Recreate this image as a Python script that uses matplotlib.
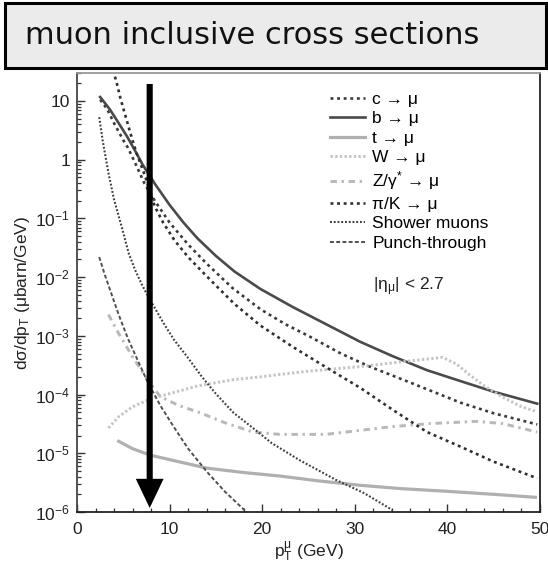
import numpy as np
import matplotlib
matplotlib.use('Agg')
import matplotlib.pyplot as plt
from matplotlib.patches import FancyArrowPatch, Rectangle
from matplotlib.ticker import FuncFormatter, LogLocator, MultipleLocator, NullFormatter

plt.rcParams['font.family'] = ['Liberation Sans', 'DejaVu Sans']
plt.rcParams['mathtext.default'] = 'regular'

# cross sections dsigma/dpT in microbarn/GeV, pT in GeV
c_pt = [2.5, 3.0, 3.35, 4.0, 4.5, 5.0, 5.5, 6.4, 7.3, 8.4, 10, 12, 14, 16.8, 19.8, 22.5, 25.2, 28.5, 31.6, 36, 41.4, 45, 49.7]
c_xs = [10.5, 8.3, 6.8, 4.2, 3.0, 2.15, 1.6, 0.8, 0.39, 0.2, 0.085, 0.036, 0.017, 6.5e-3, 2.85e-3, 1.58e-3, 9.6e-4, 5.0e-4, 3.0e-4, 1.6e-4, 7.3e-5, 4.8e-5, 3.1e-5]

b_pt = [2.5, 3.0, 3.6, 4.5, 5.4, 6.3, 7.1, 7.7, 8.5, 10, 11.5, 13, 15, 17, 19.8, 23.3, 27, 30.6, 34.1, 37.8, 41.4, 44.9, 49.7]
b_xs = [11.7, 9.3, 7.0, 4.2, 2.5, 1.4, 0.82, 0.58, 0.37, 0.17, 0.085, 0.046, 0.023, 0.0125, 6.3e-3, 3.1e-3, 1.55e-3, 7.9e-4, 4.5e-4, 2.6e-4, 1.7e-4, 1.13e-4, 7.0e-5]

t_pt = [4.5, 6, 7.9, 10, 14, 18, 21.9, 26, 30.6, 35, 40, 45, 49.5]
t_xs = [1.6e-5, 1.2e-5, 9.3e-6, 7.8e-6, 5.6e-6, 4.7e-6, 4.1e-6, 3.4e-6, 2.85e-6, 2.5e-6, 2.25e-6, 2.0e-6, 1.78e-6]

w_pt = [3.4, 4.5, 6.0, 8, 10.4, 13, 16.9, 19.8, 21.9, 25, 30.6, 35, 39.5, 41, 42.5, 44, 46, 48, 49.7]
w_xs = [2.7e-5, 4.2e-5, 6.2e-5, 8.5e-5, 1.08e-4, 1.4e-4, 1.8e-4, 2.0e-4, 2.2e-4, 2.5e-4, 3.0e-4, 3.6e-4, 4.3e-4, 3.3e-4, 2.1e-4, 1.4e-4, 9e-5, 6.2e-5, 5.1e-5]

z_pt = [3.4, 4.5, 6.0, 7.5, 9, 11, 13.3, 16, 19, 21.9, 26.9, 30, 34.1, 38, 43.2, 46, 49.7]
z_xs = [2.3e-3, 1.1e-3, 4.4e-4, 1.9e-4, 9.2e-5, 6.5e-5, 4.9e-5, 3.3e-5, 2.3e-5, 2.1e-5, 2.1e-5, 2.4e-5, 2.85e-5, 3.2e-5, 3.5e-5, 3.2e-5, 2.3e-5]

pik_pt = [4.1, 4.3, 4.7, 5.2, 5.6, 6.05, 6.5, 7.0, 7.4, 8.4, 9.3, 10.5, 12, 13.5, 15, 17, 19.8, 23.3, 27, 30.6, 34.1, 37.8, 41.4, 44.9, 49.7]
pik_xs = [26, 20, 11, 5.8, 3.5, 2.0, 1.2, 0.75, 0.5, 0.16, 0.085, 0.043, 0.022, 0.0125, 7.2e-3, 3.5e-3, 1.5e-3, 6.5e-4, 2.85e-4, 1.3e-4, 5.5e-5, 2.3e-5, 1.3e-5, 7.3e-6, 3.75e-6]

shower_pt = [2.4, 2.8, 3.4, 4.0, 4.9, 5.6, 6.3, 7.0, 7.5, 8.1, 9.5, 10.5, 11.9, 13.5, 15, 16.9, 19, 21, 24, 28, 31, 34.1]
shower_xs = [5.3, 2.0, 0.59, 0.21, 0.065, 0.025, 0.013, 7.5e-3, 5.3e-3, 3.6e-3, 1.5e-3, 8.5e-4, 4.4e-4, 2.0e-4, 1.03e-4, 4.9e-5, 2.7e-5, 1.5e-5, 7.7e-6, 3.5e-6, 2.1e-6, 1.07e-6]

punch_pt = [2.4, 3.0, 3.9, 4.5, 5.5, 6.5, 7.5, 9, 10.4, 12, 14, 16, 18.1]
punch_xs = [0.022, 0.011, 4.3e-3, 2.3e-3, 9e-4, 4e-4, 1.8e-4, 6.5e-5, 2.9e-5, 1.2e-5, 4.9e-6, 2.2e-6, 1.07e-6]

fig = plt.figure(figsize=(5.48, 5.69), dpi=100)

# header box
fig.patches.append(Rectangle((5/548, 1 - 68/569), 541/548, 65/569, transform=fig.transFigure,
                             facecolor='#ebebeb', edgecolor='black', lw=2.2))
fig.text(25/548, 1 - 36/569, 'muon inclusive cross sections', family='DejaVu Sans',
         fontsize=22, va='center', ha='left', color='#111111')

ax = fig.add_axes([77/548, 1 - 512/569, (540 - 77)/548, (512 - 73)/569])

ax.plot(c_pt, c_xs, color='#3a3a3a', ls=(0, (1.1, 1.4)), lw=1.9, label='c → μ')
ax.plot(b_pt, b_xs, color='#4a4a4a', ls='-', lw=1.9, label='b → μ')
ax.plot(t_pt, t_xs, color='#b0b0b0', ls='-', lw=2.3, label='t → μ')
ax.plot(w_pt, w_xs, color='#c4c4c4', ls=(0, (0.8, 0.8)), lw=2.1, label='W → μ')
ax.plot(z_pt, z_xs, color='#b8b8b8', ls=(0, (2.2, 1.6, 0.8, 1.6)), lw=2.1, label=r'Z/$\gamma^{*}$ → μ')
ax.plot(pik_pt, pik_xs, color='#303030', ls=(0, (1.1, 1.4)), lw=1.9, label='π/K → μ')
ax.plot(shower_pt, shower_xs, color='#404040', ls=(0, (0.9, 0.9)), lw=1.5, label='Shower muons')
ax.plot(punch_pt, punch_xs, color='#505050', ls=(0, (2, 1.2)), lw=1.4, label='Punch-through')

ax.set_yscale('log')
ax.set_xlim(0, 50)
ax.set_ylim(1e-6, 30)

ax.xaxis.set_major_locator(MultipleLocator(10))
ax.xaxis.set_minor_locator(MultipleLocator(2))
ax.yaxis.set_major_locator(LogLocator(base=10, numticks=20))
ax.yaxis.set_minor_locator(LogLocator(base=10, subs=np.arange(2, 10), numticks=20))
ax.yaxis.set_minor_formatter(NullFormatter())

def ylab(v, pos):
    e = int(round(np.log10(v)))
    if e == 1:
        return '10'
    if e == 0:
        return '1'
    return r'$10^{%d}$' % e

ax.yaxis.set_major_formatter(FuncFormatter(ylab))

ax.tick_params(which='both', direction='in', top=False, right=False, colors='#333333',
               labelcolor='#222222', labelsize=12.5)
ax.tick_params(which='major', length=5.5, width=1.0)
ax.tick_params(which='minor', length=3.0, width=0.9)
ax.tick_params(axis='y', pad=5)
ax.tick_params(axis='x', pad=7)

for side, col in [('left', '#444444'), ('bottom', '#222222'), ('right', '#222222'), ('top', '#999999')]:
    ax.spines[side].set_color(col)
    ax.spines[side].set_linewidth(1.3)

ax.set_xlabel(r'p$_{T}^{\mu}$ (GeV)', fontsize=12.5, color='#222222', labelpad=2)
ax.set_ylabel(r'd$\sigma$/dp$_{T}$ ($\mu$barn/GeV)', fontsize=12.5, color='#222222', labelpad=2)

ax.legend(loc='upper left', bbox_to_anchor=(0.546, 0.958), frameon=False, fontsize=12.5,
          handlelength=2.0, handletextpad=0.45, labelspacing=0.25, borderpad=0, borderaxespad=0)

ax.text(0.639, 0.5125, r'|$\eta_{\mu}$| < 2.7', transform=ax.transAxes, fontsize=12.5,
        va='center', ha='left', color='#222222')

# marker arrow
arrow = FancyArrowPatch((7.85, 19.5), (7.85, 1.17e-6),
                        arrowstyle='simple,head_length=1.05,head_width=1.0,tail_width=0.22',
                        mutation_scale=20, color='black', lw=0, shrinkA=0, shrinkB=0, zorder=5)
ax.add_patch(arrow)

fig.savefig('out.png', dpi=100)
